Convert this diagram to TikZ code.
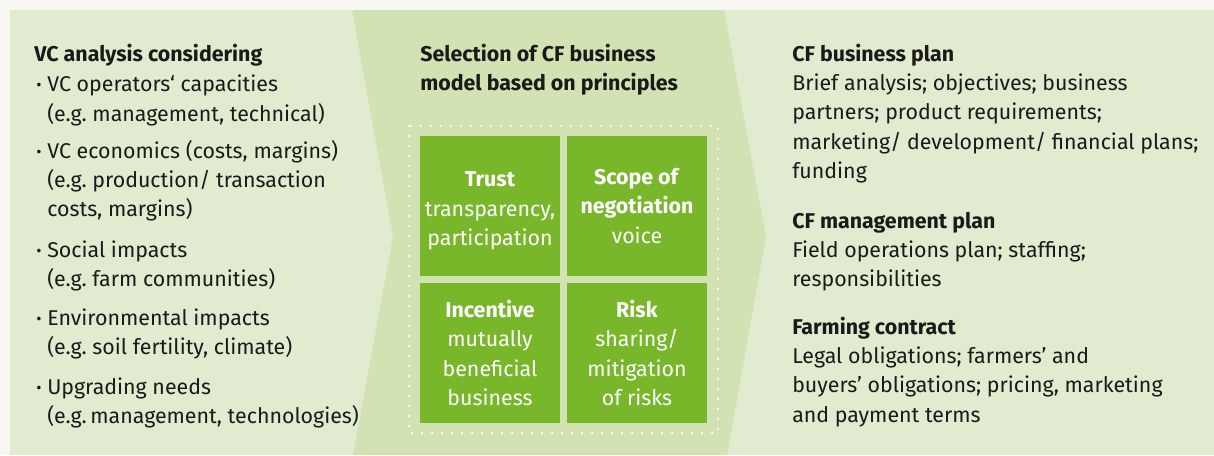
\documentclass[tikz,border=0pt]{standalone}
\usepackage{fontspec}
\setmainfont{Fira Sans}
\frenchspacing
\usetikzlibrary{positioning}

\definecolor{pagebg}{HTML}{F6F7F2}
\definecolor{panelgreen}{HTML}{E1EBCF}
\definecolor{arrowgreen}{HTML}{D3E2B3}
\definecolor{boxgreen}{HTML}{78B72A}
\definecolor{inkblack}{HTML}{1A1A1A}

\newcommand{\bul}{\llap{\raisebox{0.1ex}{\scalebox{0.75}{\textbullet}}\hspace{4pt}}}

\tikzset{
  txt/.style={inner sep=0pt, align=left, text=inkblack,
    font=\fontsize{15.2}{20.8}\selectfont},
  principle/.style={fill=boxgreen, minimum size=3.5cm, inner sep=0pt,
    align=center, text=white, font=\fontsize{15.2}{20.8}\selectfont},
}

\begin{document}
\begin{tikzpicture}[x=0.025cm, y=-0.025cm]
  % Background and panels
  \fill[pagebg] (0,0) rectangle (1214,455);
  \fill[panelgreen] (10,10) rectangle (1214,455);
  \fill[arrowgreen] (352,10) -- (724,10) -- (766,237) -- (727,455)
    -- (353,455) -- (393,237) -- cycle;

  % Left column: VC analysis
  \node[txt, anchor=base west] (vctitle) at (34,61.5) {\textbf{VC analysis considering}};
  \node[txt, anchor=north west] (operators) at (47,71.2)
    {\strut\bul VC operators‘ capacities\\(e.g. management, technical)};
  \node[txt, anchor=north west] (economics) at (47,137.5)
    {\strut\bul VC economics (costs, margins)\\(e.g. production/ transaction\\costs, margins)};
  \node[txt, anchor=north west] (social) at (47,236.5)
    {\strut\bul Social impacts\\(e.g. farm communities)};
  \node[txt, anchor=north west] (environment) at (47,304.5)
    {\strut\bul Environmental impacts\\(e.g. soil fertility, climate)};
  \node[txt, anchor=north west] (upgrading) at (47,373.5)
    {\strut\bul Upgrading needs\\(e.g.\,management, technologies)};

  % Middle column: business model principles
  \node[txt, anchor=north west] (seltitle) at (420,40.5)
    {\strut\textbf{Selection of CF business}\\\textbf{model based on principles}};
  \draw[white, line width=0.06cm, line cap=round, dash pattern=on 0pt off 0.25cm]
    (409,126) rectangle (718,433);
  \node[principle] (trust) at (490,206)
    {\rule{0pt}{17.5pt}\textbf{Trust}\\transparency,\\participation};
  \node[principle] (scope) at (637,206)
    {\textbf{Scope of}\\\textbf{negotiation}\\voice};
  \node[principle] (incentive) at (490,353)
    {\textbf{Incentive}\\mutually\\beneficial\\business};
  \node[principle] (risk) at (637,353)
    {\textbf{Risk}\\sharing/\\mitigation\\of risks};

  % Right column: plans and contract
  \node[txt, anchor=north west] (bizplan) at (792,40.5)
    {\strut\textbf{CF business plan}\\Brief analysis; objectives; business\\partners; product requirements;\\marketing/ development/ financial plans;\\funding};
  \node[txt, anchor=north west] (mgmtplan) at (792,207.5)
    {\strut\textbf{CF management plan}\\Field operations plan; staffing;\\responsibilities};
  \node[txt, anchor=north west] (contract) at (792,313.5)
    {\strut\textbf{Farming contract}\\Legal obligations; farmers’ and\\buyers’ obligations; pricing, marketing\\and payment terms};
\end{tikzpicture}
\end{document}
